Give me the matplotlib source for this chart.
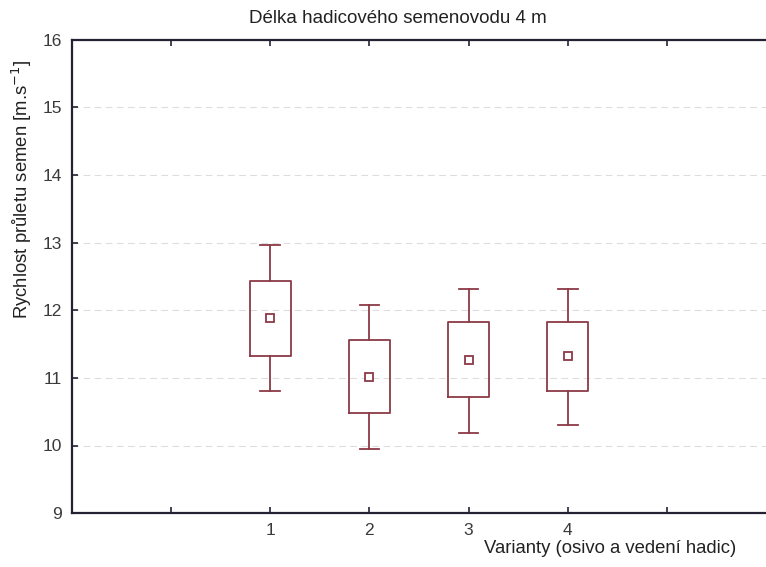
import matplotlib.pyplot as plt

plt.rcParams['font.family'] = ['Liberation Sans', 'DejaVu Sans']

# Data (box = mean +- SE, whiskers = mean +- SD style)
variants = [1, 2, 3, 4]
means = [11.88, 11.02, 11.27, 11.32]
box_low = [11.33, 10.48, 10.72, 10.80]
box_high = [12.43, 11.56, 11.82, 11.83]
whisk_low = [10.80, 9.95, 10.18, 10.31]
whisk_high = [12.97, 12.07, 12.32, 12.32]
tick_labels = ['', '1', '2', '3', '4', '']

color = '#8c3a46'

fig = plt.figure(figsize=(7.66, 5.67), dpi=100)
ax = fig.add_axes([0.094, 0.095, 0.906, 0.835])

stats = []
for i in range(len(variants)):
    stats.append({'med': means[i], 'mean': means[i],
                  'q1': box_low[i], 'q3': box_high[i],
                  'whislo': whisk_low[i], 'whishi': whisk_high[i],
                  'fliers': []})

ax.bxp(stats, positions=variants, widths=0.41, capwidths=0.2,
       showmeans=True, patch_artist=False,
       boxprops=dict(color=color, linewidth=1.3),
       whiskerprops=dict(color=color, linewidth=1.3),
       capprops=dict(color=color, linewidth=1.3),
       medianprops=dict(visible=False),
       meanprops=dict(marker='s', markersize=6, markerfacecolor='white',
                      markeredgecolor=color, markeredgewidth=1.3),
       manage_ticks=False)

ax.set_xlim(-1, 6)
ax.set_ylim(9, 16)
ax.set_yticks(range(9, 17))
ax.set_xticks(range(0, 6))
ax.set_xticklabels(tick_labels)

ax.yaxis.grid(True, linestyle=(0, (6, 4)), color='#dddddd', linewidth=0.8)
ax.set_axisbelow(True)

ax.tick_params(direction='in', top=True, bottom=True, left=True, right=False,
               length=4, width=1.2, color='#222233', labelsize=12.5,
               labelcolor='#3a3a3a', pad=7)
for side in ['left', 'bottom', 'top']:
    ax.spines[side].set_linewidth(1.6)
    ax.spines[side].set_color('#222233')
ax.spines['right'].set_visible(False)

fig.text(0.52, 0.967, 'Délka hadicového semenovodu 4 m', ha='center', va='center',
         fontsize=13.5, color='#222222')
fig.text(0.797, 0.032, 'Varianty (osivo a vedení hadic)', ha='center', va='center',
         fontsize=13.3, color='#222222')
fig.text(0.029, 0.665, 'Rychlost průletu semen [m.s$^{-1}$]', ha='center', va='center',
         rotation=90, fontsize=13.3, color='#222222')

fig.savefig('out.png', dpi=100)
